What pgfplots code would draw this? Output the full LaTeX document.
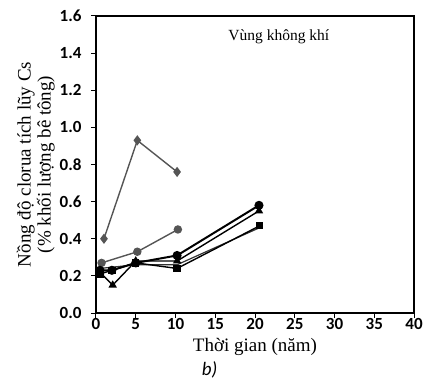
\documentclass[border=0pt]{standalone}
\usepackage{pgfplots}
\pgfplotsset{compat=1.18}
\usepackage{fontspec}
\setmainfont{Liberation Serif}
\setsansfont{Carlito}
\definecolor{grayline}{RGB}{85,85,85}
\begin{document}
\begin{tikzpicture}
\path[use as bounding box] (-96pt,-70pt) rectangle (327pt,313pt);
\begin{axis}[
  at={(0,0)}, anchor=south west,
  scale only axis, width=318pt, height=297pt,
  xmin=0, xmax=40, ymin=0, ymax=1.6,
  xtick={0,5,...,40}, ytick={0,0.2,...,1.6},
  yticklabel style={/pgf/number format/fixed, /pgf/number format/fixed zerofill, /pgf/number format/precision=1, xshift=-6pt},
  /pgf/number format/assume math mode=true,
  tick label style={font=\sffamily\bfseries\fontsize{17}{17}\selectfont},
  xticklabel style={yshift=3pt},
  axis line style={line width=1.3pt},
  tick style={line width=1pt, black},
  tick align=outside, major tick length=5pt,
  xtick pos=bottom, ytick pos=left,
  xlabel={Thời gian (năm)},
  ylabel={Nồng độ clorua tích lũy Cs\\(\% khối lượng bê tông)},
  label style={font=\fontsize{19}{20}\selectfont},
  xlabel style={yshift=-2pt},
  ylabel style={align=center, yshift=-2pt},
  clip=false,
]
\addplot[grayline, line width=1.4pt, mark=diamond*, mark size=4pt, mark options={solid}]
  coordinates {(1,0.40) (5.2,0.93) (10.2,0.76)};
\addplot[grayline, line width=1.4pt, mark=*, mark size=3.5pt]
  coordinates {(0.7,0.27) (5.2,0.33) (10.3,0.45)};
\addplot[black!80, line width=1.2pt]
  coordinates {(0.5,0.24) (5,0.26) (10.2,0.26) (20.6,0.46)};
\addplot[black, line width=1.4pt, mark=triangle*, mark size=3.5pt]
  coordinates {(0.5,0.22) (2.1,0.15) (5,0.28) (10.2,0.28) (20.5,0.55)};
\addplot[black, line width=1.4pt, mark=square*, mark size=3pt]
  coordinates {(0.5,0.21) (2,0.23) (5,0.27) (10.2,0.24) (20.6,0.47)};
\addplot[black, line width=2pt, mark=*, mark size=3.5pt]
  coordinates {(0.5,0.23) (2,0.23) (5,0.27) (10.2,0.31) (20.5,0.58)};
\node[font=\fontsize{15.5}{15.5}\selectfont] at (axis cs:23,1.49) {Vùng không khí};
\node[font=\sffamily\itshape\fontsize{19}{19}\selectfont] at (axis cs:14.3,-0.305) {b)};
\end{axis}
\end{tikzpicture}
\end{document}
